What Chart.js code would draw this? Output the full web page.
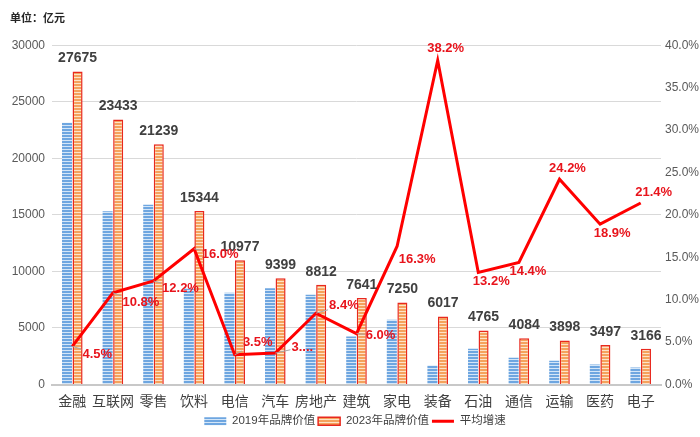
<!DOCTYPE html>
<html>
<head>
<meta charset="utf-8">
<script src="https://cdn.jsdelivr.net/npm/chart.js@4"></script>
<style>
  html, body { margin: 0; padding: 0; background: #fff; }
  #wrap { width: 700px; height: 437px; }
</style>
</head>
<body>
<div id="wrap"><canvas id="brandChart" width="700" height="437"></canvas></div>
<script>
// industries
const industries = ['金融', '互联网', '零售', '饮料', '电信', '汽车', '房地产', '建筑', '家电', '装备', '石油', '通信', '运输', '医药', '电子'];
// 2019 brand value (亿元)
const value2019 = [23150, 15310, 15900, 8470, 8110, 8520, 7930, 4250, 5720, 1680, 3160, 2360, 2100, 1770, 1500];
// 2023 brand value (labelled)
const value2023 = [27675, 23433, 21239, 15344, 10977, 9399, 8812, 7641, 7250, 6017, 4765, 4084, 3898, 3497, 3166];
// average growth, %
const growth = [4.5, 10.8, 12.2, 16.0, 3.5, 3.7, 8.4, 6.0, 16.3, 38.2, 13.2, 14.4, 24.2, 18.9, 21.4];
const leftTicks = [0, 5000, 10000, 15000, 20000, 25000, 30000];

// growth label text, one got cut off in the original
const growthText = growth.map(v => v.toFixed(1) + '%');
growthText[5] = '3....';
// where each growth label sits relative to its point
const growthLabelOffset = [
    [25, 8], [28, 10], [27, 7], [26, 6], [23, -12], [27, -6], [28, -8], [24, 2],
    [20, 13], [8, -12], [13, 9], [9, 9], [8, -11], [12, 9], [13, -11]
];

const FONT = '"Liberation Sans", Arial, "Noto Sans CJK SC", sans-serif';
Chart.defaults.font.family = FONT;

function stripes(base, light) {
    const c = document.createElement('canvas');
    c.width = 4; c.height = 3;
    const g = c.getContext('2d');
    g.fillStyle = base; g.fillRect(0, 0, 4, 2);
    g.fillStyle = light; g.fillRect(0, 2, 4, 1);
    return g.createPattern(c, 'repeat');
}

const ctx = document.getElementById('brandChart').getContext('2d');
const bluePat = stripes('#6ea6e0', '#d4e6f8');
const orangePat = stripes('#f5a25c', '#fde3c8');

const labelPlugin = {
    id: 'valueLabels',
    afterDatasetsDraw(chart) {
        const c = chart.ctx;
        c.save();
        // 2023 values on the orange bars
        const barMeta = chart.getDatasetMeta(1);
        c.font = 'bold 14px ' + FONT;
        c.fillStyle = '#404040';
        c.textAlign = 'center';
        c.textBaseline = 'middle';
        barMeta.data.forEach((bar, i) => {
            c.fillText(String(value2023[i]), bar.x, bar.y - 13);
        });
        // growth labels with little leader lines
        const lineMeta = chart.getDatasetMeta(2);
        c.font = 'bold 13px ' + FONT;
        lineMeta.data.forEach((pt, i) => {
            const [dx, dy] = growthLabelOffset[i];
            const lx = pt.x + dx, ly = pt.y + dy;
            const hw = c.measureText(growthText[i]).width / 2 + 1, hh = 7;
            const t = Math.min(Math.abs(dx) > 0 ? (Math.abs(dx) - hw) / Math.abs(dx) : 1,
                               Math.abs(dy) > 0 ? (Math.abs(dy) - hh) / Math.abs(dy) : 1);
            const tt = Math.max(t, Math.abs(dx) > hw ? (Math.abs(dx) - hw) / Math.abs(dx) : 0);
            if (tt > 0.05) {
                c.strokeStyle = '#a6a6a6';
                c.lineWidth = 1;
                c.beginPath();
                c.moveTo(pt.x, pt.y);
                c.lineTo(pt.x + dx * tt, pt.y + dy * tt);
                c.stroke();
            }
            c.fillStyle = '#e8141c';
            c.fillText(growthText[i], lx, ly);
        });
        c.restore();
    }
};

const chart = new Chart(ctx, {
    type: 'bar',
    data: {
        labels: industries,
        datasets: [
            {
                label: '2019年品牌价值', data: value2019, yAxisID: 'y',
                backgroundColor: bluePat, borderWidth: 0,
                categoryPercentage: 0.52, barPercentage: 0.95,
                pointStyle: 'rect', order: 1
            },
            {
                label: '2023年品牌价值', data: value2023, yAxisID: 'y',
                backgroundColor: orangePat, borderColor: '#e8281e', borderWidth: 1.5,
                categoryPercentage: 0.52, barPercentage: 0.95,
                pointStyle: 'rect', order: 1
            },
            {
                type: 'line', label: '平均增速', data: growth, yAxisID: 'y1',
                borderColor: '#ff0000', backgroundColor: '#ff0000', borderWidth: 3,
                pointRadius: 0, pointStyle: 'line', tension: 0, order: 0
            }
        ]
    },
    options: {
        responsive: false,
        animation: false,
        layout: { padding: { left: 10, right: 0, top: 0, bottom: 0 } },
        plugins: {
            title: {
                display: true, text: '单位：亿元', align: 'start',
                color: '#262626', font: { size: 11, weight: 'bold' },
                padding: { top: 12, bottom: 20 }
            },
            legend: {
                position: 'bottom',
                labels: {
                    usePointStyle: true, pointStyleWidth: 22, boxHeight: 8,
                    color: '#404040', font: { size: 11.5 }, padding: 3,
                    sort: (a, b) => a.datasetIndex - b.datasetIndex
                }
            },
            tooltip: { enabled: false }
        },
        scales: {
            x: {
                grid: { display: false },
                border: { display: true, color: '#c8c8c8', width: 2 },
                ticks: { color: '#404040', font: { size: 14, family: '"Noto Sans CJK SC", sans-serif' },
                         padding: 0, maxRotation: 0, autoSkip: false },
                afterFit: s => { s.height = 28; }
            },
            y: {
                position: 'left', min: 0, max: 30000,
                afterBuildTicks: s => { s.ticks = leftTicks.map(v => ({ value: v })); },
                grid: { color: '#d9d9d9', lineWidth: 1, drawTicks: false },
                border: { display: false },
                ticks: { color: '#595959', font: { size: 12 }, padding: 7, callback: v => String(v) },
                afterFit: s => { s.width = 42; }
            },
            y1: {
                position: 'right', min: 0, max: 40,
                grid: { display: false, drawTicks: false },
                border: { display: false },
                ticks: { stepSize: 5, color: '#595959', font: { size: 12 }, padding: 4,
                         callback: v => v.toFixed(1) + '%' },
                afterFit: s => { s.width = 39; }
            }
        }
    },
    plugins: [labelPlugin]
});
</script>
</body>
</html>
